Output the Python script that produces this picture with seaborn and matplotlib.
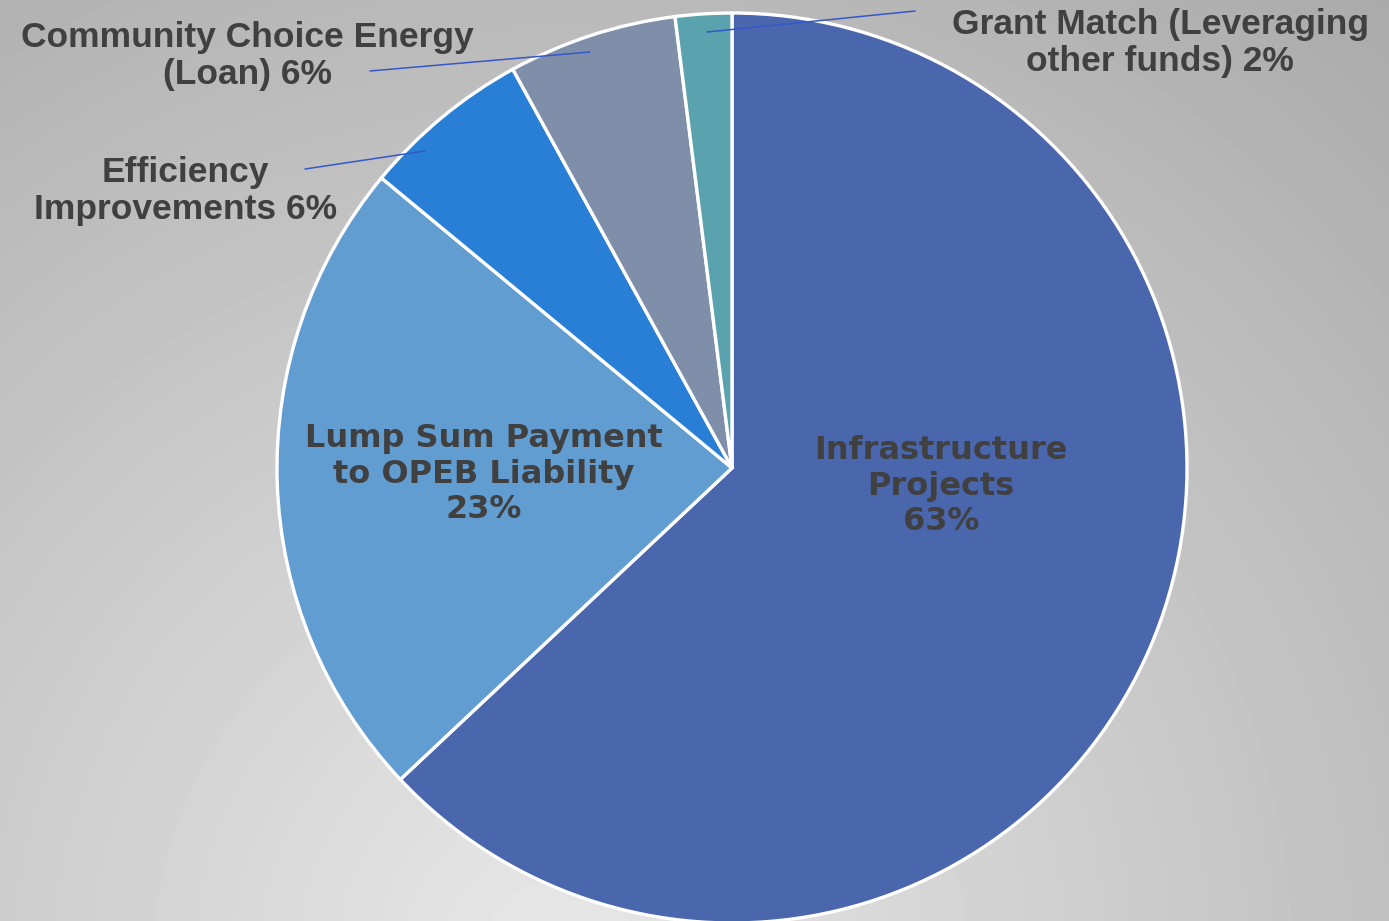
import numpy as np
import matplotlib
matplotlib.use("Agg")
import matplotlib.pyplot as plt
import seaborn as sns

categories = ["Infrastructure Projects", "Lump Sum Payment to OPEB Liability",
              "Efficiency Improvements", "Community Choice Energy (Loan)",
              "Grant Match (Leveraging other funds)"]
shares = [63, 23, 6, 6, 2]
colors = ["#4A66AC", "#629DD1", "#297FD5", "#7F8FA9", "#5AA2AE"]

sns.set_theme(style="white")
plt.rcParams["font.family"] = ["DejaVu Sans"]

W, H = 1389, 921
fig = plt.figure(figsize=(W / 100, H / 100), dpi=100)
ax = fig.add_axes([0, 0, 1, 1])
ax.set_xlim(0, W)
ax.set_ylim(0, H)
ax.axis("off")

# grey radial background, lightest near the bottom left
yy, xx = np.mgrid[0:H, 0:W]
d = np.hypot(xx - 560, yy - 960) / 1250.0
g = np.clip(0.91 - 0.24 * d, 0, 1)
ax.imshow(g, cmap="gray", vmin=0, vmax=1, extent=[0, W, 0, H],
          origin="upper", zorder=0, aspect="auto")

cx, cy, r = 732, H - 468, 455
ax.pie(shares, colors=colors, startangle=90, counterclock=False,
       center=(cx, cy), radius=r, frame=True,
       wedgeprops=dict(edgecolor="white", linewidth=2.4))
ax.set_xlim(0, W)
ax.set_ylim(0, H)
ax.axis("off")

txt = "#404040"
inner = dict(color=txt, fontsize=23, fontweight="bold", ha="center",
             va="center", linespacing=1.2, family=["DejaVu Sans"])
ax.text(941, H - 486, "Infrastructure\nProjects\n63%", **inner)
ax.text(484, H - 474, "Lump Sum Payment\nto OPEB Liability\n23%", **inner)

outer = dict(color=txt, fontsize=25.5, fontweight="bold", ha="center",
             va="center", linespacing=1.18,
             family=["Liberation Sans", "DejaVu Sans"])
ax.text(247, H - 56, "Community Choice Energy\n(Loan) 6%", **outer)
ax.text(185, H - 191, "Efficiency\nImprovements 6%", **outer)
ax.text(1160, H - 43, "Grant Match (Leveraging\nother funds) 2%", **outer)

lc = "#3558C8"
ax.plot([370, 590], [H - 71, H - 52], color=lc, lw=1.1)
ax.plot([305, 425], [H - 169, H - 151], color=lc, lw=1.1)
ax.plot([707, 915], [H - 32, H - 11], color=lc, lw=1.1)

fig.savefig("out.png", dpi=100)
